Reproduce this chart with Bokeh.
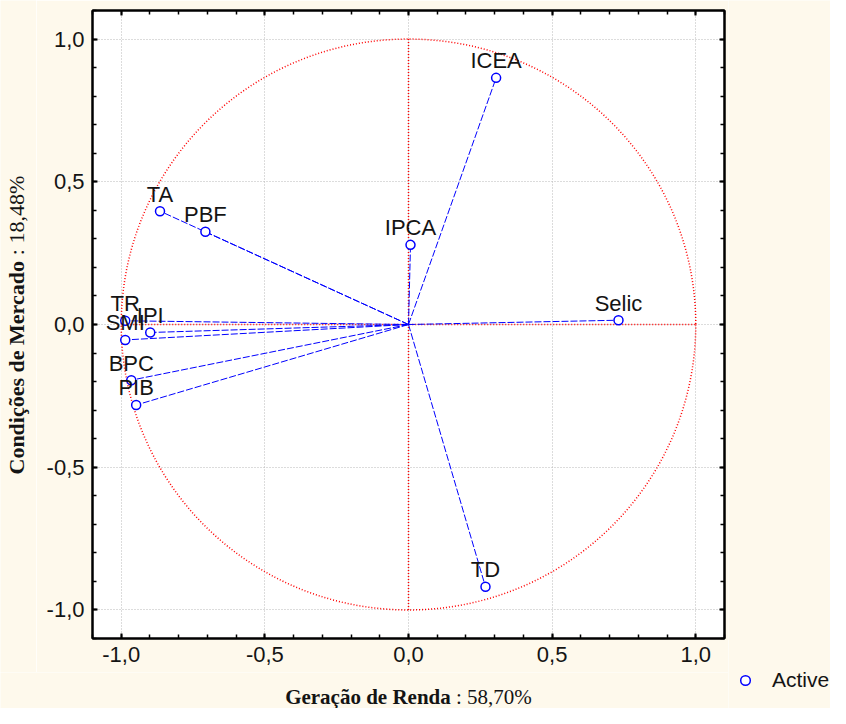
import numpy as np
from bokeh.plotting import figure
from bokeh.layouts import row, column
from bokeh.models import (Range1d, LinearAxis, FixedTicker, ColumnDataSource,
                          Label, Legend, LegendItem)
from bokeh.core.properties import value
from bokeh.embed import file_html
from bokeh.resources import INLINE

# ---- data ----
names = ["ICEA", "IPCA", "Selic", "TA", "PBF", "TR", "IPI", "SMI", "BPC", "PIB", "TD"]
fx = [0.305, 0.007, 0.731, -0.865, -0.707, -0.986, -0.899, -0.986, -0.965, -0.948, 0.268]
fy = [0.864, 0.279, 0.015, 0.397, 0.325, 0.013, -0.028, -0.054, -0.195, -0.282, -0.919]
tick_vals = [-1.0, -0.5, 0.0, 0.5, 1.0]
tick_labels = ["-1,0", "-0,5", "0,0", "0,5", "1,0"]
x_title_bold = "Geração de Renda"
x_title_rest = ": 58,70%"
y_title_bold = "Condições de Mercado"
y_title_rest = ": 18,48%"
legend_label = "Active"

BG = "#FEF9EC"
SANS = "Liberation Sans"
SERIF = "Liberation Serif"
TXT = "#141414"
XFS = 21  # x title font size (px)
YFS = 22  # y title font size (px)

# layout sizes
LEFT_W, MAIN_W, MAIN_H, TOTAL_W, TOTAL_H = 36, 692, 672, 830, 708


def strip(w, h):
    s = figure(width=w, height=h, output_backend="svg", toolbar_location=None,
               x_range=Range1d(0, 1), y_range=Range1d(0, 1),
               x_axis_location=None, y_axis_location=None,
               min_border_left=0, min_border_right=0, min_border_top=0, min_border_bottom=0)
    s.frame_align = False
    s.border_fill_color = BG
    s.background_fill_color = BG
    s.outline_line_color = None
    s.xgrid.visible = False
    s.ygrid.visible = False
    return s


# ---------------- main plot ----------------
p = figure(width=MAIN_W, height=MAIN_H, output_backend="svg", toolbar_location=None,
           x_range=Range1d(-1.1, 1.1), y_range=Range1d(-1.1, 1.1),
           x_axis_location=None, y_axis_location=None,
           min_border_left=56, min_border_right=4, min_border_top=10, min_border_bottom=34)
p.frame_align = False
p.border_fill_color = BG
p.background_fill_color = "white"
p.outline_line_color = "black"
p.outline_line_width = 2

minor = [round(v, 1) for v in np.arange(-1.1, 1.11, 0.1)]
overrides = {v: s for v, s in zip(tick_vals, tick_labels)}


def make_axis(show_labels):
    ax = LinearAxis(ticker=FixedTicker(ticks=tick_vals, minor_ticks=minor))
    ax.axis_line_color = "black"
    ax.axis_line_width = 2
    ax.major_tick_in = 5
    ax.major_tick_out = 0
    ax.minor_tick_in = 4
    ax.minor_tick_out = 0
    ax.major_tick_line_width = 2
    ax.minor_tick_line_width = 1.5
    ax.major_tick_line_color = "black"
    ax.minor_tick_line_color = "black"
    if show_labels:
        ax.major_label_overrides = overrides
        ax.major_label_text_font = SANS
        ax.major_label_text_font_size = "22px"
        ax.major_label_text_color = TXT
        ax.major_label_standoff = 8
    else:
        ax.major_label_overrides = {v: "" for v in tick_vals}
        ax.major_label_text_font_size = "1px"
        ax.major_label_text_color = None
        ax.major_label_standoff = 0
    return ax


p.add_layout(make_axis(True), "below")
p.add_layout(make_axis(True), "left")
p.add_layout(make_axis(False), "above")
p.add_layout(make_axis(False), "right")

p.xgrid.ticker = FixedTicker(ticks=tick_vals)
p.ygrid.ticker = FixedTicker(ticks=tick_vals)
for g in (p.xgrid, p.ygrid):
    g.grid_line_color = "#b8b8b8"
    g.grid_line_dash = "1 2"
    g.grid_line_width = 1

# red unit circle and cross
p.ellipse(x=0, y=0, width=2, height=2, fill_color=None, line_color="red",
          line_dash="1 2", line_width=1.5)
p.segment(x0=[-1, 0], y0=[0, -1], x1=[1, 0], y1=[0, 1], line_color="red",
          line_dash="1 2", line_width=1.5)

src = ColumnDataSource(dict(x0=[0.0] * len(fx), y0=[0.0] * len(fy), x=fx, y=fy, name=names))
p.segment(x0="x0", y0="y0", x1="x", y1="y", source=src, line_color="blue",
          line_dash="7 2", line_width=1)
pts = p.scatter(x="x", y="y", source=src, marker="circle", size=9, fill_color="white",
                line_color="blue", line_width=1.5)
p.text(x="x", y="y", text="name", source=src, text_font=value(SANS), text_font_size="22px",
       text_color=TXT, text_align="center", text_baseline="alphabetic", y_offset=-17)

# ---------------- left strip: y title ----------------
left = strip(LEFT_W, MAIN_H)
y_start = 198
bold_len_y = 9.721 * YFS  # Times-metric width of the bold part
left.add_layout(Label(x=16, y=y_start, x_units="screen", y_units="screen", text=y_title_bold,
                      angle=np.pi / 2, text_font=SERIF, text_font_size=f"{YFS}px",
                      text_font_style="bold", text_color=TXT, text_align="left",
                      text_baseline="middle"))
left.add_layout(Label(x=16, y=y_start + bold_len_y + 0.25 * YFS, x_units="screen",
                      y_units="screen", text=y_title_rest, angle=np.pi / 2, text_font=SERIF,
                      text_font_size=f"{YFS}px", text_color=TXT, text_align="left",
                      text_baseline="middle"))

# ---------------- bottom strip: x title ----------------
bottom = strip(LEFT_W + MAIN_W, TOTAL_H - MAIN_H)
bold_len_x = 7.888 * XFS
rest_len_x = 3.861 * XFS
frame_cx = 408
x_split = frame_cx - (bold_len_x + rest_len_x) / 2 + bold_len_x
bottom.add_layout(Label(x=x_split, y=12, x_units="screen", y_units="screen", text=x_title_bold,
                        text_font=SERIF, text_font_size=f"{XFS}px", text_font_style="bold",
                        text_color=TXT, text_align="right", text_baseline="alphabetic"))
bottom.add_layout(Label(x=x_split + 0.25 * XFS, y=12, x_units="screen", y_units="screen",
                        text=x_title_rest, text_font=SERIF, text_font_size=f"{XFS}px",
                        text_color=TXT, text_align="left", text_baseline="alphabetic"))

# ---------------- right strip: legend ----------------
right = strip(TOTAL_W - LEFT_W - MAIN_W, TOTAL_H)
# legend key proxy: one point kept outside the strip's visible range
key = right.scatter(x=[-5], y=[-5], marker="circle", size=9, fill_color="white",
                    line_color="blue", line_width=1.5)
legend = Legend(items=[LegendItem(label=legend_label, renderers=[key])],
                location=(5, 16), orientation="vertical")
legend.padding = 0
legend.margin = 0
legend.spacing = 0
legend.glyph_width = 24
legend.glyph_height = 24
legend.label_standoff = 15
legend.label_text_font = SANS
legend.label_text_font_size = "21px"
legend.label_text_color = TXT
legend.border_line_alpha = 0
legend.background_fill_alpha = 0
right.add_layout(legend, "center")

layout = row(column(row(left, p), bottom), right)
open("out.html", "w").write(file_html(layout, INLINE))
